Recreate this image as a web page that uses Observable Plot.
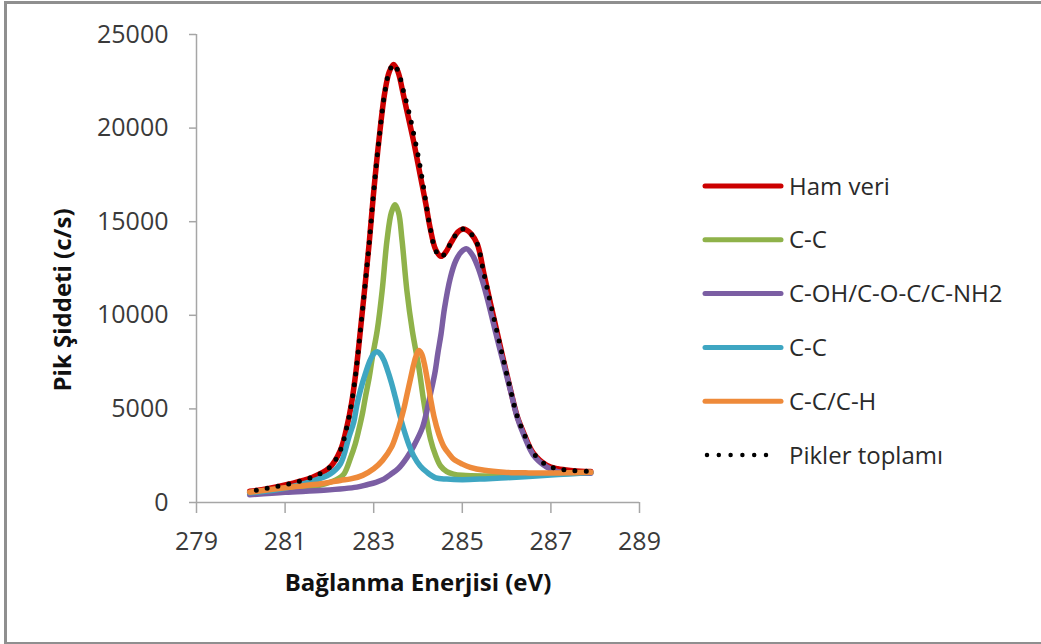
<!DOCTYPE html>
<html>
<head>
<meta charset="utf-8">
<script src="https://cdn.jsdelivr.net/npm/d3@7"></script>
<script src="https://cdn.jsdelivr.net/npm/@observablehq/plot@0.6"></script>
<style>
  html, body { margin: 0; padding: 0; background: #fff; }
  #wrap { position: relative; width: 1041px; height: 644px; overflow: hidden; background: #fff; font-family: "Open Sans", sans-serif; }
  #frame { position: absolute; left: 4px; top: 1px; width: 1100px; height: 638px; border: 3px solid #8f8f8f; box-sizing: content-box; }
  #chart { position: absolute; left: 0; top: 0; }
  #overlay { position: absolute; left: 0; top: 0; pointer-events: none; }
</style>
</head>
<body>
<div id="wrap">
  <div id="frame"></div>
  <div id="chart"></div>
  <svg id="overlay" width="1041" height="644"></svg>
</div>
<script>
// ---------- data (binding energy eV, intensity c/s) ----------
const xTicks = [279, 281, 283, 285, 287, 289];
const yTicks = [0, 5000, 10000, 15000, 20000, 25000];

const hamVeri = [
  [280.2, 600], [280.6, 740], [281.1, 990], [281.6, 1330], [282.0, 1850], [282.25, 2800],
  [282.4, 4100], [282.5, 5300], [282.6, 7000], [282.7, 9200], [282.8, 11500], [282.9, 13900],
  [283.0, 16600], [283.12, 19400], [283.25, 21900], [283.35, 23000], [283.45, 23400],
  [283.55, 23000], [283.65, 22000], [283.77, 20700], [283.9, 19300], [284.0, 18100],
  [284.09, 17000], [284.18, 15900], [284.28, 14600], [284.4, 13500], [284.52, 13150],
  [284.62, 13350], [284.75, 13900], [284.9, 14450], [285.0, 14600], [285.1, 14550],
  [285.2, 14350], [285.34, 13800], [285.49, 12200], [285.64, 10600], [285.79, 9050],
  [285.94, 7500], [286.09, 6000], [286.24, 4600], [286.39, 3700], [286.6, 2650],
  [286.9, 2000], [287.15, 1800], [287.5, 1700], [287.9, 1650]
];

const cc1 = [
  [280.2, 520], [280.8, 620], [281.5, 790], [281.9, 1000], [282.2, 1280], [282.33, 1530],
  [282.48, 2400], [282.58, 3100], [282.66, 3850], [282.75, 4800], [282.81, 5600], [282.9, 6700],
  [282.97, 7760], [283.08, 9200], [283.19, 11300], [283.3, 14000], [283.4, 15500], [283.48, 15900],
  [283.56, 15500], [283.64, 14000], [283.75, 11300], [283.87, 9200], [284.02, 7200], [284.13, 5400],
  [284.28, 3400], [284.4, 2500], [284.51, 1950], [284.65, 1650], [284.8, 1520], [285.0, 1450],
  [285.5, 1420], [286.0, 1440], [286.5, 1480], [287.0, 1520], [287.5, 1560], [287.9, 1600]
];

const cOH = [
  [280.2, 410], [281.0, 550], [281.87, 650], [282.62, 820], [282.85, 950], [283.05, 1080],
  [283.23, 1250], [283.38, 1500], [283.55, 1800], [283.75, 2400], [283.9, 3000], [284.1, 4000],
  [284.2, 4900], [284.3, 6000], [284.38, 6900], [284.45, 8000], [284.52, 9000], [284.6, 10400],
  [284.73, 12000], [284.85, 12900], [284.98, 13400], [285.1, 13550], [285.22, 13250],
  [285.34, 12650], [285.46, 11800], [285.58, 10750], [285.7, 9600], [285.82, 8450],
  [285.94, 7350], [286.09, 5950], [286.24, 4550], [286.39, 3600], [286.6, 2550], [286.9, 1900],
  [287.15, 1650], [287.5, 1580], [287.9, 1560]
];

const cc2 = [
  [280.2, 520], [280.8, 680], [281.5, 1060], [282.02, 1530], [282.25, 2070], [282.44, 3490],
  [282.55, 4300], [282.62, 5200], [282.7, 6000], [282.81, 6870], [282.92, 7600], [283.0, 7950],
  [283.08, 8050], [283.16, 7900], [283.23, 7600], [283.3, 7150], [283.4, 6400], [283.49, 5600],
  [283.58, 4750], [283.68, 3900], [283.8, 3050], [283.9, 2500], [284.05, 1950], [284.2, 1620],
  [284.4, 1320], [284.65, 1250], [285.0, 1220], [285.5, 1260], [286.0, 1320], [286.5, 1390],
  [287.0, 1470], [287.5, 1540], [287.9, 1600]
];

const ccH = [
  [280.2, 550], [281.1, 820], [281.8, 1000], [282.25, 1180], [282.48, 1260], [282.75, 1450],
  [283.0, 1800], [283.2, 2250], [283.4, 2950], [283.52, 3700], [283.6, 4300], [283.68, 5000],
  [283.75, 5750], [283.83, 6600], [283.9, 7350], [283.96, 7850], [284.02, 8120], [284.08, 7950],
  [284.14, 7450], [284.2, 6700], [284.28, 5600], [284.36, 4600], [284.47, 3650], [284.58, 3000],
  [284.7, 2600], [284.81, 2300], [285.0, 2050], [285.18, 1880], [285.5, 1720], [285.94, 1620],
  [286.5, 1580], [287.07, 1570], [287.5, 1590], [287.9, 1610]
];

const piklerToplami = [
  [280.35, 650], [280.6, 760], [281.1, 1000], [281.6, 1340], [282.0, 1860], [282.25, 2800],
  [282.4, 4100], [282.5, 5300], [282.6, 7000], [282.7, 9200], [282.8, 11500], [282.9, 13900],
  [283.0, 16600], [283.12, 19400], [283.25, 21900], [283.35, 23000], [283.45, 23400],
  [283.55, 23050], [283.67, 22000], [283.8, 20800], [283.92, 19500], [284.02, 18300],
  [284.1, 17200], [284.18, 16000], [284.28, 14600], [284.4, 13450], [284.52, 13100],
  [284.62, 13350], [284.75, 13900], [284.9, 14450], [285.0, 14600], [285.1, 14550],
  [285.2, 14350], [285.34, 13800], [285.49, 12200], [285.64, 10600], [285.79, 9050],
  [285.94, 7500], [286.09, 6000], [286.24, 4600], [286.39, 3700], [286.6, 2650],
  [286.9, 2000], [287.15, 1800], [287.5, 1700], [287.9, 1660]
];

const seriesNames = ["Ham veri", "C-C", "C-OH/C-O-C/C-NH2", "C-C", "C-C/C-H", "Pikler toplamı"];
const seriesColors = ["#cc0000", "#8fb24a", "#7b5ea3", "#3ea6c2", "#ee8a3a", "#000000"];
const seriesData = [hamVeri, cc1, cOH, cc2, ccH, piklerToplami];

// ---------- chart ----------
const toRows = (arr) => arr.map(([x, y]) => ({x, y}));
const lineMarks = seriesData.map((arr, i) => {
  const dotted = i === seriesData.length - 1;
  return Plot.line(toRows(arr), {
    x: "x", y: "y", curve: "catmull-rom",
    stroke: seriesColors[i],
    strokeWidth: dotted ? 5 : 5.5,
    strokeDasharray: dotted ? "0 11" : null,
    strokeLinecap: "round",
    strokeLinejoin: "round"
  });
});

const chart = Plot.plot({
  width: 1041,
  height: 644,
  marginLeft: 196,
  marginRight: 402,
  marginTop: 34,
  marginBottom: 142,
  x: {domain: [279, 289]},
  y: {domain: [0, 25000]},
  style: {fontFamily: "'Open Sans', sans-serif", fontSize: "25px", color: "#3a3a3a", background: "transparent"},
  marks: [
    Plot.axisX({ticks: xTicks, tickSize: 11, tickPadding: 19, stroke: "#a6a6a6", strokeWidth: 1.5, tickFormat: d => String(d), label: null}),
    Plot.axisY({ticks: yTicks, tickSize: 7, tickPadding: 21, stroke: "#a6a6a6", strokeWidth: 1.5, tickFormat: d => String(d), label: null}),
    Plot.ruleX([279], {stroke: "#a6a6a6", strokeWidth: 1.5}),
    Plot.ruleY([0], {stroke: "#a6a6a6", strokeWidth: 1.5}),
    ...lineMarks
  ]
});
document.getElementById("chart").appendChild(chart);

// ---------- titles and legend ----------
const ns = "http://www.w3.org/2000/svg";
const ov = document.getElementById("overlay");
function addText(txt, attrs) {
  const t = document.createElementNS(ns, "text");
  for (const k in attrs) t.setAttribute(k, attrs[k]);
  t.textContent = txt;
  ov.appendChild(t);
  return t;
}
addText("Bağlanma Enerjisi (eV)", {x: 418, y: 591, "text-anchor": "middle", "font-family": "'Open Sans', sans-serif", "font-size": 24, "font-weight": "bold", fill: "#111"});
addText("Pik Şiddeti (c/s)", {x: 0, y: 0, transform: "translate(71,300) rotate(-90)", "text-anchor": "middle", "font-family": "'Open Sans', sans-serif", "font-size": 24, "font-weight": "bold", fill: "#111"});

const legX0 = 705, legX1 = 781, legTextX = 789, legY0 = 186, legStep = 53.8;
seriesNames.forEach((name, i) => {
  const y = legY0 + i * legStep;
  const ln = document.createElementNS(ns, "line");
  const dotted = i === seriesNames.length - 1;
  ln.setAttribute("x1", dotted ? legX0 + 2 : legX0);
  ln.setAttribute("x2", dotted ? legX1 - 4 : legX1);
  ln.setAttribute("y1", y);
  ln.setAttribute("y2", y);
  ln.setAttribute("stroke", seriesColors[i]);
  ln.setAttribute("stroke-width", dotted ? 4.5 : 5);
  ln.setAttribute("stroke-linecap", "round");
  if (dotted) ln.setAttribute("stroke-dasharray", "0 11.8");
  ov.appendChild(ln);
  addText(name, {x: legTextX, y: y + 8.5, "font-family": "'Open Sans', sans-serif", "font-size": 24, fill: "#2a2a2a"});
});
</script>
</body>
</html>
